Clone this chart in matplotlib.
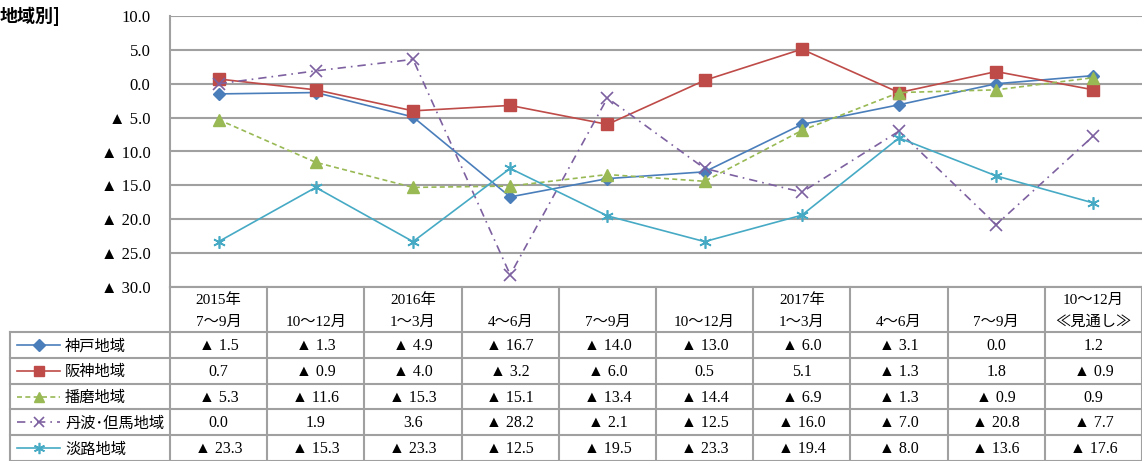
import numpy as np
import matplotlib.pyplot as plt
from matplotlib.lines import Line2D

plt.rcParams['font.family'] = ['Liberation Serif', 'Noto Sans CJK JP', 'DejaVu Sans']

# data
periods = ["2015年\n7〜9月", "\n10〜12月", "2016年\n1〜3月", "\n4〜6月", "\n7〜9月",
           "\n10〜12月", "2017年\n1〜3月", "\n4〜6月", "\n7〜9月", "10〜12月\n≪見通し≫"]
regions = ["神戸地域", "阪神地域", "播磨地域", "丹波･但馬地域", "淡路地域"]
kobe = [-1.5, -1.3, -4.9, -16.7, -14.0, -13.0, -6.0, -3.1, 0.0, 1.2]
hanshin = [0.7, -0.9, -4.0, -3.2, -6.0, 0.5, 5.1, -1.3, 1.8, -0.9]
harima = [-5.3, -11.6, -15.3, -15.1, -13.4, -14.4, -6.9, -1.3, -0.9, 0.9]
tamba = [0.0, 1.9, 3.6, -28.2, -2.1, -12.5, -16.0, -7.0, -20.8, -7.7]
awaji = [-23.3, -15.3, -23.3, -12.5, -19.5, -23.3, -19.4, -8.0, -13.6, -17.6]
yticks = [10, 5, 0, -5, -10, -15, -20, -25, -30]

series = [kobe, hanshin, harima, tamba, awaji]
styles = [
    dict(color="#4a7ebb", ls="-", marker="D", ms=6.5),
    dict(color="#be4b48", ls="-", marker="s", ms=8),
    dict(color="#98b954", ls=(0, (3, 2)), marker="^", ms=8),
    dict(color="#7d60a0", ls=(0, (5, 3, 1, 3)), marker="x", ms=8, mew=1.2),
    dict(color="#46aac5", ls="-", marker=(6, 2, 0), ms=9, mew=1.2),
]


def fmt(v):
    return f"▲ {abs(v):.1f}" if v < 0 else f"{v:.1f}"


W, H = 1142, 461
fig = plt.figure(figsize=(W / 100, H / 100), dpi=100)

# pixel layout
x0, x1 = 170, 1142
y_top, y_bot = 16, 287
row_h = 25.8
head_bot = 332
legend_left = 10
grid_c = "#a0a0a0"

ax = fig.add_axes([x0 / W, 1 - y_bot / H, (x1 - x0) / W, (y_bot - y_top) / H])
n = len(periods)
xs = np.arange(n)
for vals, st in zip(series, styles):
    ax.plot(xs, vals, color=st["color"], ls=st["ls"], lw=1.2, marker=st["marker"],
            ms=st["ms"], mew=st.get("mew", 1), mfc=st["color"], mec=st["color"],
            clip_on=False, zorder=3)
ax.set_xlim(-0.5, n - 0.5)
ax.set_ylim(-30, 10)
ax.set_yticks(yticks)
ax.set_yticklabels([fmt(v) for v in yticks], fontsize=12)
ax.yaxis.grid(True, color=grid_c, lw=1.5)
ax.set_xticks([])
ax.tick_params(axis="y", length=0, pad=14)
for s in ["top", "right", "bottom"]:
    ax.spines[s].set_visible(False)
ax.spines["left"].set_color(grid_c)
ax.spines["left"].set_linewidth(1.5)

# table overlay in pixel coords
tb = fig.add_axes([0, 0, 1, 1], facecolor="none")
tb.set_xlim(0, W)
tb.set_ylim(H, 0)
tb.axis("off")

col_w = (x1 - x0) / n
rows_y = [head_bot + i * row_h for i in range(len(regions) + 1)]
# horizontal lines
tb.plot([x0, x1], [y_bot, y_bot], color=grid_c, lw=1.5)
for y in rows_y:
    tb.plot([legend_left, x1], [y, y], color=grid_c, lw=1.5)
# vertical lines
tb.plot([legend_left, legend_left], [head_bot, H], color=grid_c, lw=1.5)
for i in range(n + 1):
    xv = x0 + i * col_w
    tb.plot([xv, xv], [y_bot, H], color=grid_c, lw=1.5)

# header
for i, lab in enumerate(periods):
    cx = x0 + (i + 0.5) * col_w
    top, bot = lab.split("\n")
    if top:
        tb.text(cx, 300, top, ha="center", va="center", fontsize=11)
    tb.text(cx, 322, bot, ha="center", va="center", fontsize=11)

# rows
for r, (name, vals, st) in enumerate(zip(regions, series, styles)):
    cy = head_bot + (r + 0.5) * row_h
    tb.add_line(Line2D([17, 60], [cy, cy], color=st["color"], ls=st["ls"], lw=1.2))
    tb.plot([38.5], [cy], marker=st["marker"], ms=st["ms"] * 0.9, color=st["color"],
            mew=st.get("mew", 1))
    tb.text(65, cy + 1, name, ha="left", va="center", fontsize=11,
            family=["Noto Sans CJK JP"])
    for i, v in enumerate(vals):
        cx = x0 + (i + 0.5) * col_w
        tb.text(cx, cy + 1, fmt(v), ha="center", va="center", fontsize=11.5)

fig.text(0, 1 - 16 / H, "地域別]", ha="left", va="center", fontsize=13,
         fontweight="bold", family=["Noto Sans CJK JP"])

fig.savefig("out.png", dpi=100)
